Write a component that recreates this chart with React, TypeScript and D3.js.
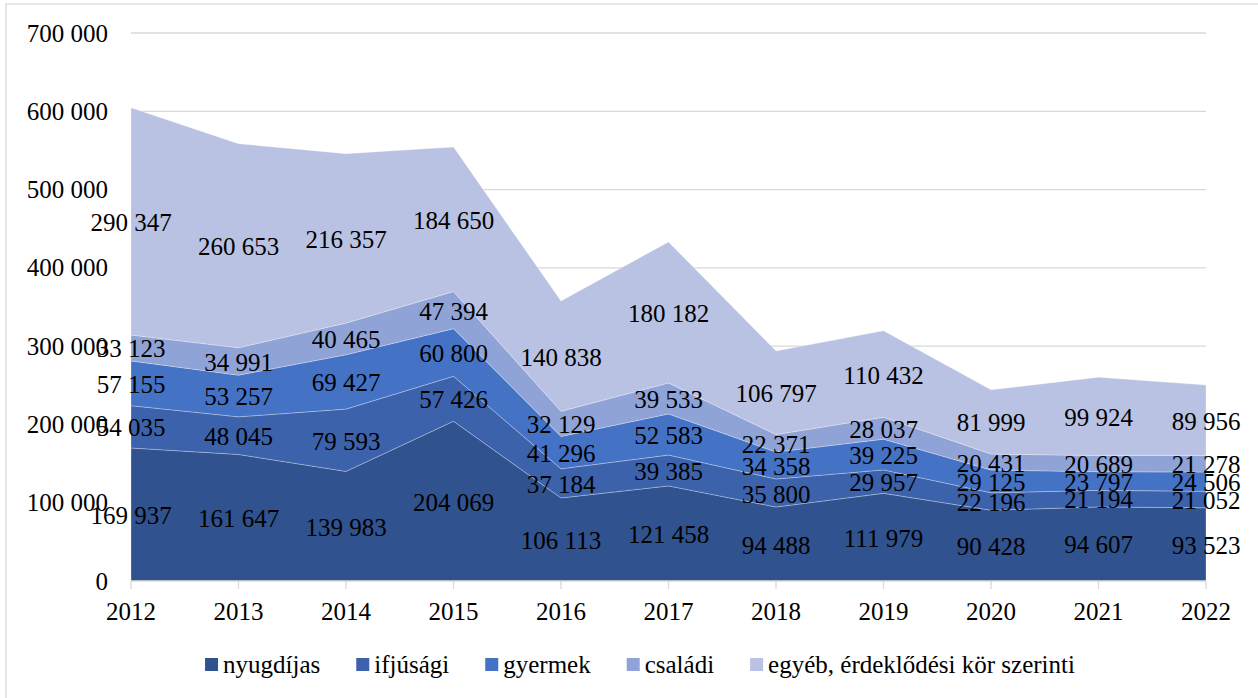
import React from 'react'
import * as d3 from 'd3'

const years = ['2012', '2013', '2014', '2015', '2016', '2017', '2018', '2019', '2020', '2021', '2022']
const seriesNames = ['nyugdíjas', 'ifjúsági', 'gyermek', 'családi', 'egyéb, érdeklődési kör szerinti']
const nyugdijas = [169937, 161647, 139983, 204069, 106113, 121458, 94488, 111979, 90428, 94607, 93523]
const ifjusagi = [54035, 48045, 79593, 57426, 37184, 39385, 35800, 29957, 22196, 21194, 21052]
const gyermek = [57155, 53257, 69427, 60800, 41296, 52583, 34358, 39225, 29125, 23797, 24506]
const csaladi = [33123, 34991, 40465, 47394, 32129, 39533, 22371, 28037, 20431, 20689, 21278]
const egyeb = [290347, 260653, 216357, 184650, 140838, 180182, 106797, 110432, 81999, 99924, 89956]
const yTicks = [0, 100000, 200000, 300000, 400000, 500000, 600000, 700000]

const colors = ['#30528f', '#3b62ab', '#4472c4', '#8fa3d6', '#b9c2e2']

const W = 1258
const H = 698
const FONT = 'Liberation Serif, DejaVu Serif, serif'
const FS = 25

const locale = d3.formatLocale({ decimal: ',', thousands: ' ', grouping: [3], currency: ['', ''] })
const fmt = locale.format(',d')

// measure legend text so the items can be centred like Excel does
const measure = (s: string) => {
  const ctx = document.createElement('canvas').getContext('2d')
  if (!ctx) return s.length * 11
  ctx.font = `${FS}px ${FONT}`
  return ctx.measureText(s).width
}

export default function App() {
  const allSeries = [nyugdijas, ifjusagi, gyermek, csaladi, egyeb]
  const rows = years.map((y, i) => {
    const r: any = { year: y }
    seriesNames.forEach((k, j) => (r[k] = allSeries[j][i]))
    return r
  })
  const stacked = d3.stack().keys(seriesNames)(rows)

  const x = d3.scalePoint().domain(years).range([131, 1206])
  const y = d3.scaleLinear().domain([0, 700000]).range([581, 33])

  const area = d3
    .area<any>()
    .x(d => x(d.data.year) as number)
    .y0(d => y(d[0]))
    .y1(d => y(d[1]))

  // legend layout
  const sq = 13
  const gapText = 5
  const gapItem = 36
  const widths = seriesNames.map(measure)
  const total = widths.reduce((a, w) => a + sq + gapText + w, 0) + gapItem * (seriesNames.length - 1)
  let lx = 640 - total / 2
  const legendItems = seriesNames.map((name, i) => {
    const item = { name, x: lx, color: colors[i] }
    lx += sq + gapText + widths[i] + gapItem
    return item
  })

  return (
    <svg
      width={W}
      height={H}
      style={{ position: 'absolute', left: 0, top: 0, background: '#fff', fontFamily: FONT, fontSize: FS }}
    >
      <rect x={6} y={4} width={W + 20} height={H + 20} fill="#fff" stroke="#d9d9d9" strokeWidth={1.3} />

      {/* gridlines */}
      {yTicks.slice(1).map(t => (
        <line key={t} x1={131} x2={1206} y1={y(t)} y2={y(t)} stroke="#d9d9d9" strokeWidth={1.3} />
      ))}

      {/* areas */}
      {stacked.map((s, i) => (
        <path key={s.key} d={area(s as any) || ''} fill={colors[i]} stroke="#ffffff" strokeOpacity={0.35} strokeWidth={0.8} />
      ))}

      {/* x axis */}
      <line x1={131} x2={1206} y1={y(0)} y2={y(0)} stroke="#d9d9d9" strokeWidth={1.3} />
      {years.map(yr => (
        <g key={yr}>
          <line x1={x(yr)} x2={x(yr)} y1={y(0)} y2={y(0) + 8} stroke="#d9d9d9" strokeWidth={1.3} />
          <text x={x(yr)} y={620} textAnchor="middle" fill="#000">
            {yr}
          </text>
        </g>
      ))}

      {/* y axis labels */}
      {yTicks.map(t => (
        <text key={t} x={108} y={y(t)} textAnchor="end" dominantBaseline="central" fill="#000">
          {fmt(t)}
        </text>
      ))}

      {/* data labels in the middle of each band */}
      {stacked.map(s =>
        s.map(d => (
          <text
            key={s.key + d.data.year}
            x={x(d.data.year as any)}
            y={y((d[0] + d[1]) / 2) + 1}
            textAnchor="middle"
            dominantBaseline="central"
            fill="#000"
          >
            {fmt(d[1] - d[0])}
          </text>
        ))
      )}

      {/* legend */}
      {legendItems.map(it => (
        <g key={it.name}>
          <rect x={it.x} y={658} width={sq} height={sq} fill={it.color} />
          <text x={it.x + sq + gapText} y={673} fill="#000">
            {it.name}
          </text>
        </g>
      ))}
    </svg>
  )
}
